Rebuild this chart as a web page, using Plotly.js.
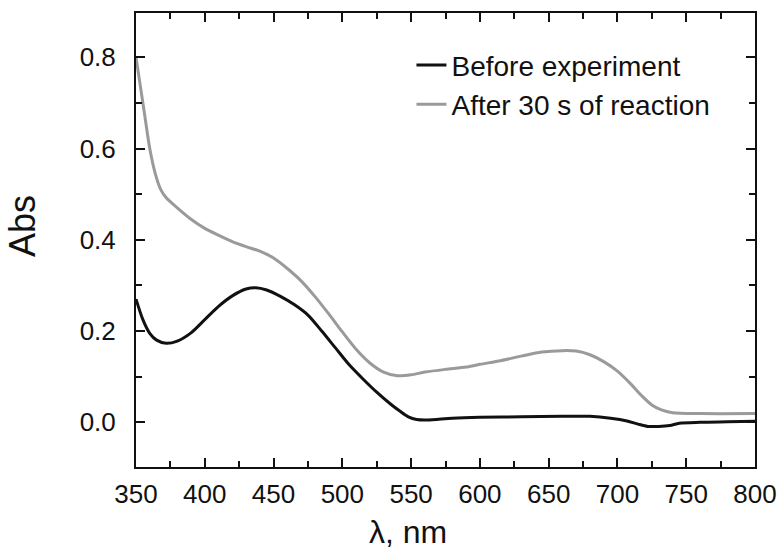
<!DOCTYPE html>
<html>
<head>
<meta charset="utf-8">
<script src="https://cdn.plot.ly/plotly-3.0.1.min.js"></script>
<style>html,body{margin:0;padding:0;background:#fff;}#chart{width:781px;height:552px;}</style>
</head>
<body>
<div id="chart"></div>
<script>
// Wavelength (nm) and absorbance
const beforeWavelength = [350, 355, 360, 365, 372, 380, 390, 400, 410, 420, 430, 437, 445, 455, 465, 475, 485, 495, 505, 515, 525, 535, 542, 548, 554, 562, 580, 600, 630, 660, 680, 695, 707, 715, 722, 730, 738, 745, 760, 780, 800];
const beforeAbs = [0.270, 0.225, 0.195, 0.180, 0.173, 0.178, 0.196, 0.225, 0.254, 0.277, 0.292, 0.295, 0.290, 0.276, 0.258, 0.235, 0.200, 0.163, 0.126, 0.095, 0.066, 0.040, 0.024, 0.012, 0.006, 0.005, 0.009, 0.011, 0.012, 0.013, 0.013, 0.009, 0.003, -0.004, -0.009, -0.009, -0.007, -0.002, 0.000, 0.001, 0.002];

const afterWavelength = [350, 353, 356, 360, 364, 368, 372, 380, 390, 400, 410, 420, 430, 440, 450, 460, 470, 480, 490, 500, 510, 520, 530, 540, 550, 560, 575, 590, 600, 615, 630, 645, 660, 670, 680, 690, 700, 710, 717, 725, 732, 740, 760, 800];
const afterAbs = [0.800, 0.740, 0.680, 0.600, 0.545, 0.510, 0.492, 0.470, 0.445, 0.425, 0.410, 0.396, 0.385, 0.375, 0.360, 0.337, 0.310, 0.276, 0.238, 0.198, 0.160, 0.130, 0.110, 0.102, 0.104, 0.110, 0.116, 0.121, 0.127, 0.135, 0.145, 0.154, 0.157, 0.156, 0.148, 0.133, 0.112, 0.083, 0.060, 0.038, 0.027, 0.021, 0.019, 0.019];

const seriesNames = ["Before experiment", "After 30 s of reaction"];
const seriesColors = ["#111111", "#9a9a9a"];
const xTitle = "λ, nm";
const yTitle = "Abs";

const font = "Arial, 'Liberation Sans', sans-serif";

const traces = [
  {x: beforeWavelength, y: beforeAbs, name: seriesNames[0], mode: "lines",
   line: {color: seriesColors[0], width: 3, shape: "spline", smoothing: 0.8}},
  {x: afterWavelength, y: afterAbs, name: seriesNames[1], mode: "lines",
   line: {color: seriesColors[1], width: 3, shape: "spline", smoothing: 0.8}}
];

const axisCommon = {
  showline: true, linecolor: "#111", linewidth: 2, mirror: "ticks",
  ticks: "inside", ticklen: 9, tickwidth: 2, tickcolor: "#111",
  showgrid: false, zeroline: false,
  tickfont: {family: font, size: 26, color: "#111"}
};

const layout = {
  width: 781, height: 552,
  margin: {l: 136, r: 26, t: 13, b: 85, pad: 0},
  paper_bgcolor: "#fff", plot_bgcolor: "#fff",
  showlegend: true,
  legend: {x: 0.445, y: 0.94, xanchor: "left", yanchor: "top",
           font: {family: font, size: 28, color: "#111"},
           bgcolor: "rgba(0,0,0,0)", borderwidth: 0, tracegroupgap: 0},
  xaxis: Object.assign({}, axisCommon, {
    range: [350, 800], dtick: 50, tick0: 350,
    minor: {dtick: 25, ticklen: 6, tickwidth: 2, tickcolor: "#111", ticks: "inside", showgrid: false},
    ticklabelstandoff: 3
  }),
  yaxis: Object.assign({}, axisCommon, {
    range: [-0.098, 0.897], dtick: 0.2, tick0: 0, tickformat: ".1f",
    minor: {dtick: 0.1, ticklen: 6, tickwidth: 2, tickcolor: "#111", ticks: "inside", showgrid: false},
    ticklabelstandoff: 13
  }),
  annotations: [
    {text: xTitle, xref: "paper", yref: "paper", x: 0.44, y: -0.143, xanchor: "center", yanchor: "middle",
     showarrow: false, font: {family: font, size: 32, color: "#111"}},
    {text: yTitle, xref: "paper", yref: "paper", x: -0.183, y: 0.53, xanchor: "center", yanchor: "middle",
     textangle: -90, showarrow: false, font: {family: font, size: 36, color: "#111"}}
  ]
};

Plotly.newPlot("chart", traces, layout, {displayModeBar: false, staticPlot: true});
</script>
</body>
</html>
